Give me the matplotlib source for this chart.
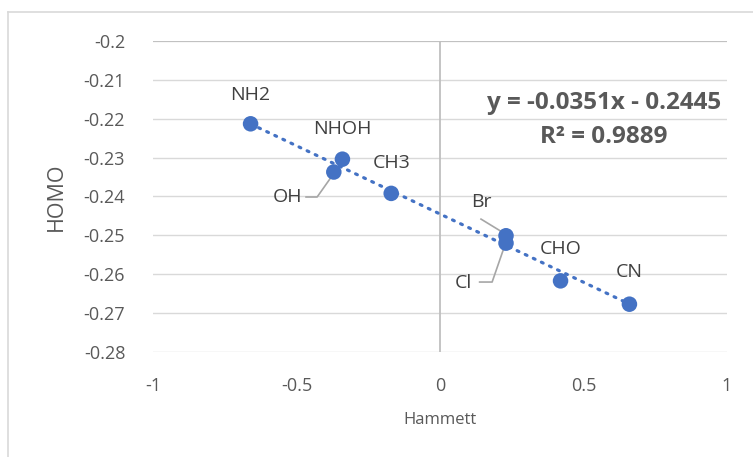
import matplotlib
matplotlib.use("Agg")
import matplotlib.pyplot as plt
import numpy as np

# substituent, Hammett sigma_p, HOMO
labels = ["NH2", "NHOH", "OH", "CH3", "Br", "Cl", "CHO", "CN"]
hammett = [-0.66, -0.34, -0.37, -0.17, 0.23, 0.23, 0.42, 0.66]
homo = [-0.2213, -0.2304, -0.2337, -0.2392, -0.2501, -0.2520, -0.2617, -0.2677]

x_ticks = [-1, -0.5, 0, 0.5, 1]
x_tick_labels = ["-1", "-0.5", "0", "0.5", "1"]
y_ticks = [-0.28, -0.27, -0.26, -0.25, -0.24, -0.23, -0.22, -0.21, -0.2]
y_tick_labels = ["-0.28", "-0.27", "-0.26", "-0.25", "-0.24", "-0.23", "-0.22", "-0.21", "-0.2"]

slope, intercept = -0.0351, -0.2445
r2 = 0.9889

BLUE = "#4472C4"
TXT = "#595959"
LBL = "#404040"

plt.rcParams["font.family"] = ["Open Sans", "DejaVu Sans"]

fig = plt.figure(figsize=(7.53, 4.57), dpi=100)
W, H = 753, 457
ax = fig.add_axes([153 / W, 1 - 352 / H, (727 - 153) / W, (352 - 41) / H])

# chart border (left and top edges visible)
fig.add_artist(plt.Line2D([8 / W, 8 / W], [0, 1 - 12 / H], color="#d9d9d9", lw=1.2))
fig.add_artist(plt.Line2D([8 / W, 1], [1 - 12 / H, 1 - 12 / H], color="#d9d9d9", lw=1.2))

ax.set_xlim(-1, 1)
ax.set_ylim(-0.28, -0.2)
for s in ax.spines.values():
    s.set_visible(False)

for yt in y_ticks:
    ax.axhline(yt, color="#d9d9d9", lw=1, zorder=0)
ax.axhline(-0.2, color="#bfbfbf", lw=1.3, zorder=0)
ax.axvline(0, color="#bfbfbf", lw=1.3, zorder=0)

# trendline across data range
xs = np.array([min(hammett), max(hammett)])
ax.plot(xs, slope * xs + intercept, color=BLUE, lw=2.3,
        linestyle=(0, (0.6, 2.2)), dash_capstyle="round", zorder=2)

ax.scatter(hammett, homo, s=125, color=BLUE, zorder=3, edgecolor="none")

# data labels: (dx, dy) offset in points from the marker
offsets = {
    "NH2": (0, 21),
    "NHOH": (0, 22),
    "OH": (-33, -18),
    "CH3": (0, 22),
    "Br": (-18, 24),
    "Cl": (-31, -29),
    "CHO": (0, 23),
    "CN": (0, 23),
}
for name, xv, yv in zip(labels, hammett, homo):
    dx, dy = offsets[name]
    ax.annotate(name, (xv, yv), xytext=(dx, dy), textcoords="offset points",
                ha="center", va="center", fontsize=14, color=LBL, zorder=4)


def leader(xv, yv, pts):
    px, py = ax.transData.transform((xv, yv))
    scale = fig.dpi / 72.0
    path = [(px + a * scale, py + b * scale) for a, b in pts]
    inv = ax.transData.inverted()
    data = [inv.transform(p) for p in path]
    ax.plot([d[0] for d in data], [d[1] for d in data], color="#a6a6a6",
            lw=1.2, zorder=2.5)


idx = {n: i for i, n in enumerate(labels)}
leader(hammett[idx["OH"]], homo[idx["OH"]], [(-20, -18), (-12, -18), (0, -1)])
leader(hammett[idx["Cl"]], homo[idx["Cl"]], [(-19, -28), (-10, -28), (-1, -2)])
leader(hammett[idx["Br"]], homo[idx["Br"]], [(-18, 12), (0, 1)])

ax.text(0.571, -0.2159, f"y = {slope:.4f}x - {abs(intercept):.4f}", ha="center", va="center",
        fontsize=17.5, fontweight="bold", color=TXT)
ax.text(0.571, -0.2247, f"R² = {r2:.4f}", ha="center", va="center",
        fontsize=17.5, fontweight="bold", color=TXT)

ax.set_xticks(x_ticks)
ax.set_xticklabels(x_tick_labels)
ax.set_yticks(y_ticks)
ax.set_yticklabels(y_tick_labels)
ax.tick_params(length=0, labelsize=13, labelcolor=TXT, pad=20)
ax.tick_params(axis="x", pad=18)
ax.set_xlabel("Hammett", fontsize=12, color=TXT, labelpad=12)
ax.set_ylabel("HOMO", fontsize=15.5, color=TXT, labelpad=12)

fig.savefig("out.png", dpi=100, facecolor="white")
